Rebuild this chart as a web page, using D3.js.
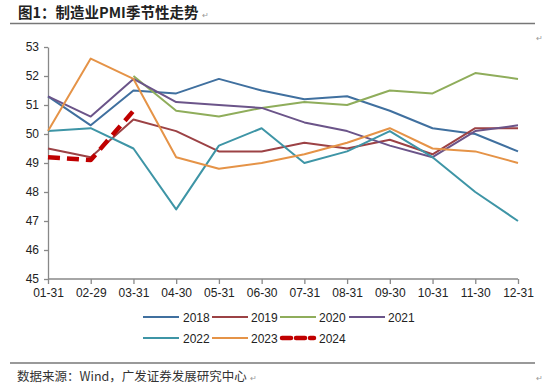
<!DOCTYPE html>
<html>
<head>
<meta charset="utf-8">
<script src="https://cdn.jsdelivr.net/npm/d3@7"></script>
<style>
  body { margin: 0; background: #fff; }
  svg { display: block; font-family: Arial, "Liberation Sans", sans-serif; }
</style>
</head>
<body>
<div id="chart"></div>
<script>
// month-end labels on the x axis
var months = ["01-31", "02-29", "03-31", "04-30", "05-31", "06-30",
              "07-31", "08-31", "09-30", "10-31", "11-30", "12-31"];
var yTicks = [45, 46, 47, 48, 49, 50, 51, 52, 53];

var years = ["2018", "2019", "2020", "2021", "2022", "2023", "2024"];
var pmi2018 = [51.3, 50.3, 51.5, 51.4, 51.9, 51.5, 51.2, 51.3, 50.8, 50.2, 50.0, 49.4];
var pmi2019 = [49.5, 49.2, 50.5, 50.1, 49.4, 49.4, 49.7, 49.5, 49.8, 49.3, 50.2, 50.2];
var pmi2020 = [null, null, 52.0, 50.8, 50.6, 50.9, 51.1, 51.0, 51.5, 51.4, 52.1, 51.9];
var pmi2021 = [51.3, 50.6, 51.9, 51.1, 51.0, 50.9, 50.4, 50.1, 49.6, 49.2, 50.1, 50.3];
var pmi2022 = [50.1, 50.2, 49.5, 47.4, 49.6, 50.2, 49.0, 49.4, 50.1, 49.2, 48.0, 47.0];
var pmi2023 = [50.1, 52.6, 51.9, 49.2, 48.8, 49.0, 49.3, 49.7, 50.2, 49.5, 49.4, 49.0];
var pmi2024 = [49.2, 49.1, 50.8];

(function () {
    "use strict";

    var vWidth = 550, vHeight = 385;
    var vPlot = { left: 48, right: 518, top: 47, bottom: 279 };

    var vSeries = [
        { name: years[0], values: pmi2018, color: "#40709f", width: 2 },
        { name: years[1], values: pmi2019, color: "#9c4245", width: 2 },
        { name: years[2], values: pmi2020, color: "#8fad5b", width: 2 },
        { name: years[3], values: pmi2021, color: "#6b5489", width: 2 },
        { name: years[4], values: pmi2022, color: "#3e95a6", width: 2 },
        { name: years[5], values: pmi2023, color: "#e59347", width: 2 },
        { name: years[6], values: pmi2024, color: "#c00000", width: 4.5, dash: "12,7" }
    ];

    var svg = d3.select("#chart").append("svg")
        .attr("width", vWidth)
        .attr("height", vHeight);

    // title + rules
    svg.append("text")
        .attr("x", 18).attr("y", 18)
        .style("font-family", "'Noto Sans CJK SC', sans-serif")
        .style("font-size", "14.5px")
        .style("font-weight", "bold")
        .style("fill", "#222")
        .text("图1：制造业PMI季节性走势");
    svg.append("text")
        .attr("x", 202).attr("y", 18)
        .style("font-size", "8px").style("fill", "#999")
        .text("↵");
    svg.append("line")
        .attr("x1", 10).attr("x2", 535).attr("y1", 23.5).attr("y2", 23.5)
        .attr("stroke", "#777").attr("stroke-width", 1.5);
    svg.append("text")
        .attr("x", 536).attr("y", 41)
        .style("font-size", "8px").style("fill", "#999")
        .text("↵");

    var x = d3.scalePoint()
        .domain(months)
        .range([vPlot.left, vPlot.right]);
    var y = d3.scaleLinear()
        .domain([45, 53])
        .range([vPlot.bottom, vPlot.top]);

    // axes
    var gx = svg.append("g")
        .attr("transform", "translate(0," + vPlot.bottom + ")")
        .call(d3.axisBottom(x).tickSizeInner(5).tickSizeOuter(0).tickPadding(4));
    var gy = svg.append("g")
        .attr("transform", "translate(" + vPlot.left + ",0)")
        .call(d3.axisLeft(y).tickValues(yTicks).tickSizeInner(4).tickSizeOuter(0).tickPadding(5));
    [gx, gy].forEach(function (g) {
        g.select(".domain").attr("stroke", "#888").attr("stroke-width", 1.3);
        g.selectAll(".tick line").attr("stroke", "#888").attr("stroke-width", 1.3);
        g.selectAll(".tick text")
            .style("font-size", "12px")
            .style("font-family", "Arial, 'Liberation Sans', sans-serif")
            .attr("fill", "#222");
    });
    gx.select(".domain").attr("d", "M" + vPlot.left + ",0H" + vPlot.right);

    // lines
    var vLine = d3.line()
        .defined(function (d) { return d != null; })
        .x(function (d, i) { return x(months[i]); })
        .y(function (d) { return y(d); });

    svg.append("g").selectAll("path")
        .data(vSeries)
        .enter()
        .append("path")
            .attr("fill", "none")
            .attr("stroke", function (s) { return s.color; })
            .attr("stroke-width", function (s) { return s.width; })
            .attr("stroke-dasharray", function (s) { return s.dash || null; })
            .attr("stroke-linejoin", "round")
            .attr("d", function (s) { return vLine(s.values); });

    // legend
    var vLegendX = [143, 212, 280, 349];
    var vLegendY = [317, 338];
    var legend = svg.append("g").selectAll("g")
        .data(vSeries)
        .enter()
        .append("g")
            .attr("transform", function (s, i) {
                return "translate(" + vLegendX[i % 4] + "," + vLegendY[Math.floor(i / 4)] + ")";
            });
    legend.append("line")
        .attr("x1", function (s) { return s.dash ? 2 : 0; })
        .attr("x2", function (s) { return s.dash ? 34 : 36; })
        .attr("stroke", function (s) { return s.color; })
        .attr("stroke-width", function (s) { return s.width; })
        .attr("stroke-dasharray", function (s) { return s.dash ? "9,5" : null; })
        .attr("stroke-linecap", function (s) { return s.dash ? "round" : "butt"; });
    legend.append("text")
        .attr("x", function (s, i) { return (i % 4 === 0) ? 40 : 39; })
        .attr("y", 4.5)
        .style("font-size", "12px")
        .style("fill", "#222")
        .text(function (s) { return s.name; });

    // source note
    svg.append("line")
        .attr("x1", 10).attr("x2", 535).attr("y1", 363).attr("y2", 363)
        .attr("stroke", "#777").attr("stroke-width", 1.5);
    svg.append("text")
        .attr("x", 17).attr("y", 381)
        .style("font-family", "'Noto Sans CJK SC', sans-serif")
        .style("font-size", "12.5px")
        .style("fill", "#333")
        .text("数据来源：Wind，广发证券发展研究中心");
    svg.append("text")
        .attr("x", 250).attr("y", 381)
        .style("font-size", "8px").style("fill", "#999")
        .text("↵");
    svg.append("text")
        .attr("x", 536).attr("y", 381)
        .style("font-size", "8px").style("fill", "#999")
        .text("↵");
})();
</script>
</body>
</html>
